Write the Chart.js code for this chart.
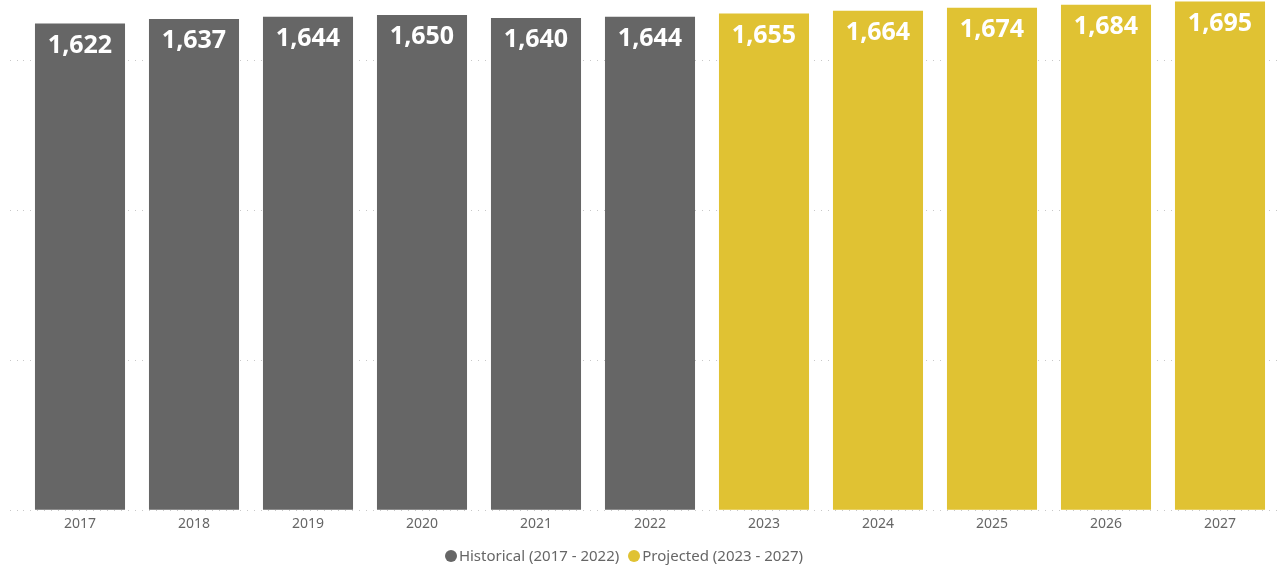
<!DOCTYPE html>
<html>
<head>
<meta charset="utf-8">
<script src="https://cdn.jsdelivr.net/npm/chart.js@4/dist/chart.umd.min.js"></script>
<style>
  html, body { margin: 0; padding: 0; background: #fff; }
  #wrap { position: relative; width: 1286px; height: 567px; }
  #legend {
    position: absolute; left: 0; top: 545px; width: 1248px; height: 20px;
    text-align: center; line-height: 20px; white-space: nowrap;
    font-family: "Noto Sans", sans-serif; font-size: 15px; color: #666666;
  }
  #legend span.item { display: inline-block; margin: 0 4.5px; }
  #legend span.dot {
    display: inline-block; width: 12px; height: 12px; border-radius: 50%;
    margin-right: 2px; vertical-align: -1px;
  }
</style>
</head>
<body>
<div id="wrap"><canvas id="popChart"></canvas><div id="legend"></div></div>
<script>
const years = ['2017', '2018', '2019', '2020', '2021', '2022', '2023', '2024', '2025', '2026', '2027'];
const historical = [1622, 1637, 1644, 1650, 1640, 1644, null, null, null, null, null];
const projected = [null, null, null, null, null, null, 1655, 1664, 1674, 1684, 1695];
const yTicks = [0, 500, 1000, 1500];

const GREY = '#666666';
const GOLD = '#E0C233';

// white value labels inside the top of each bar
const barValueLabels = {
    id: 'barValueLabels',
    afterDatasetsDraw(chart) {
        const ctx = chart.ctx;
        ctx.save();
        ctx.fillStyle = '#ffffff';
        ctx.font = 'bold 25px "Open Sans", sans-serif';
        ctx.textAlign = 'center';
        ctx.textBaseline = 'middle';
        chart.data.datasets.forEach((ds, i) => {
            const meta = chart.getDatasetMeta(i);
            meta.data.forEach((bar, j) => {
                const v = ds.data[j];
                if (v === null) return;
                ctx.fillText(v.toLocaleString('en-US'), bar.x, bar.y + 22);
            });
        });
        ctx.restore();
    }
};

const chart = new Chart(document.getElementById('popChart'), {
    type: 'bar',
    data: {
        labels: years,
        datasets: [
            { label: 'Historical (2017 - 2022)', data: historical, backgroundColor: GREY, borderWidth: 0 },
            { label: 'Projected (2023 - 2027)', data: projected, backgroundColor: GOLD, borderWidth: 0 }
        ]
    },
    options: {
        responsive: true,
        maintainAspectRatio: false,
        animation: false,
        layout: { padding: { left: 10, right: 9, top: 0, bottom: 30 } },
        datasets: {
            bar: { categoryPercentage: 0.79, barPercentage: 1.0 }
        },
        plugins: {
            legend: { display: false },
            tooltip: { enabled: false }
        },
        scales: {
            x: {
                stacked: true,
                grid: { display: false, drawTicks: false },
                border: { display: false },
                ticks: {
                    color: '#666666',
                    font: { family: '"Noto Sans", sans-serif', size: 14 },
                    padding: 5
                }
            },
            y: {
                stacked: true,
                min: 0,
                max: 1700,
                afterBuildTicks: (axis) => { axis.ticks = yTicks.map(v => ({ value: v })); },
                ticks: { display: false },
                border: { display: false, dash: [1, 6] },
                grid: {
                    color: '#c8c8c8',
                    lineWidth: 1,
                    drawTicks: true,
                    tickLength: 13,
                    tickBorderDash: [1, 6]
                }
            }
        }
    },
    plugins: [barValueLabels]
});

// legend under the axis, built from the dataset labels and colours
document.getElementById('legend').innerHTML = chart.data.datasets.map(ds =>
    '<span class="item"><span class="dot" style="background:' + ds.backgroundColor + '"></span>' + ds.label + '</span>'
).join('');
</script>
</body>
</html>
